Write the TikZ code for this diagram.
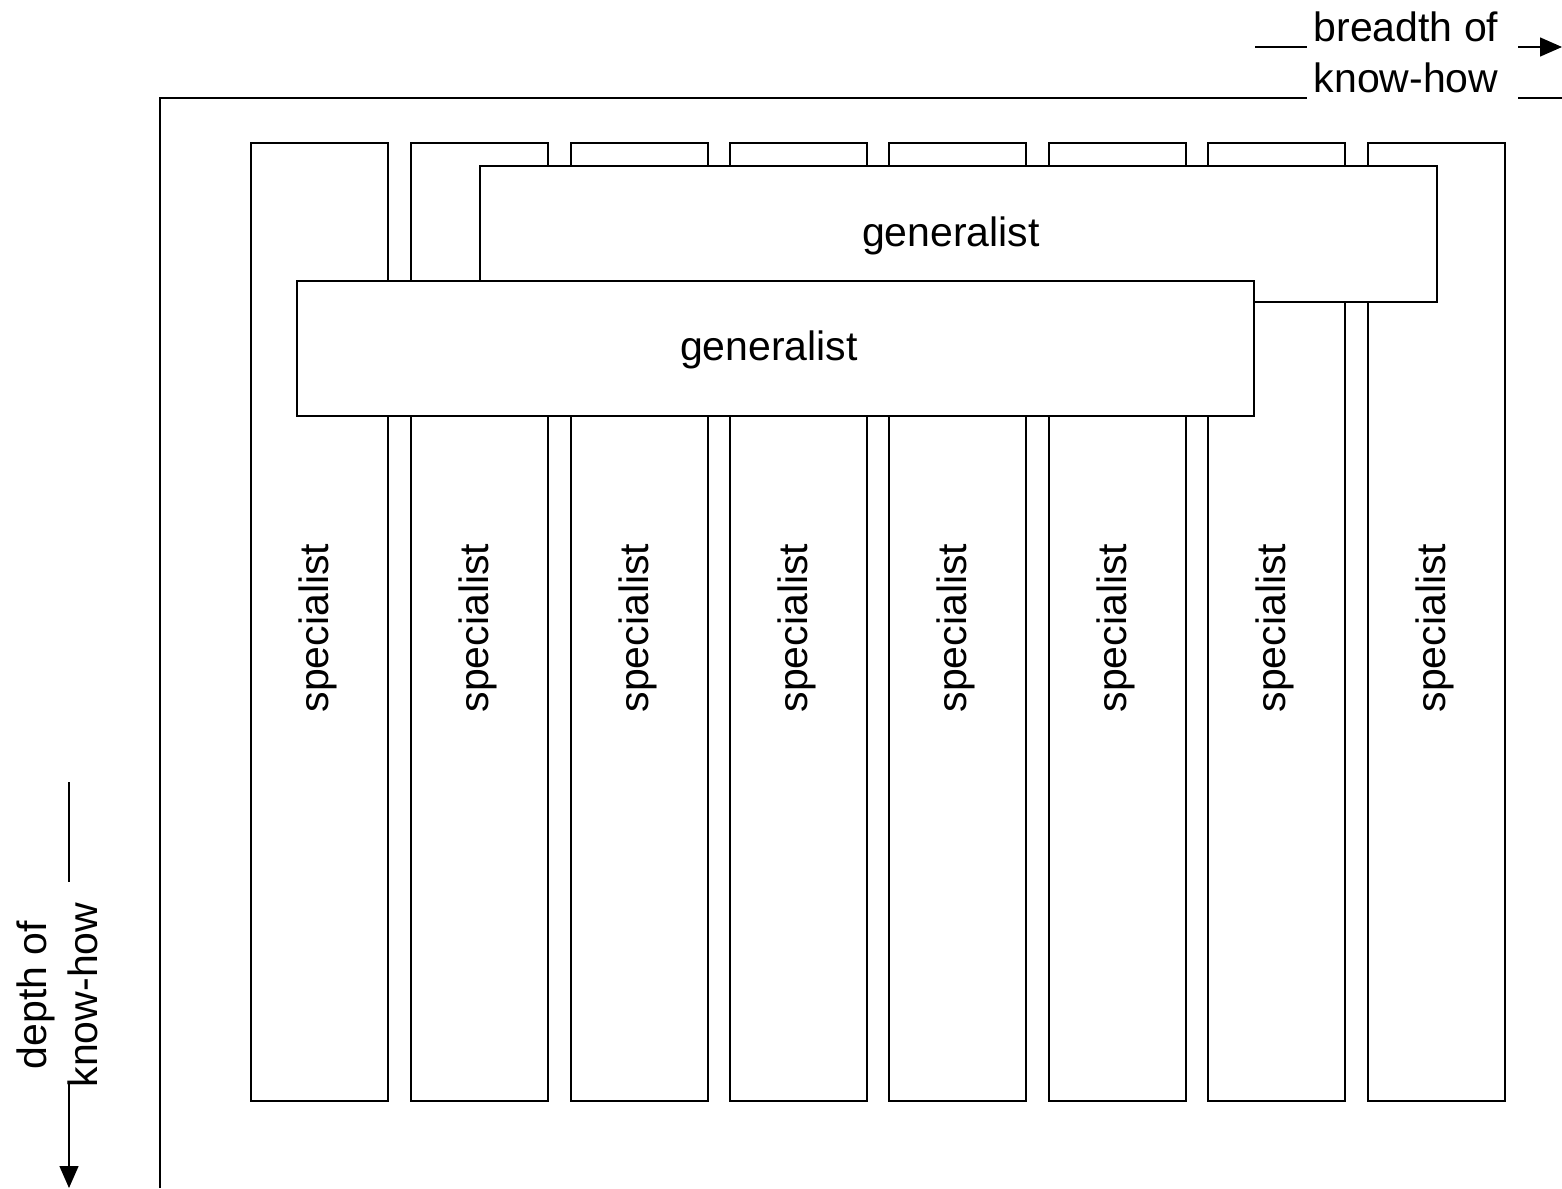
\documentclass[tikz,border=0pt]{standalone}
\usepackage{fontspec}
\setmainfont{Liberation Sans}
\usetikzlibrary{arrows.meta}
\begin{document}
\begin{tikzpicture}[x=0.5pt,y=-0.5pt,
  box/.style={draw,fill=white,line width=0.6pt},
  lbl/.style={font=\fontsize{20.5}{25.5}\selectfont,inner sep=0pt},
  ln/.style={line width=0.7pt},
  arr/.style={line width=0.7pt,-{Triangle[length=11pt,width=9.5pt]}}]
\useasboundingbox (0,0) rectangle (1562,1188);
% specialists
\foreach \i/\xa in {1/251,2/411,3/571,4/730,5/889,6/1049,7/1208,8/1368}{
  \draw[box] (\xa,143) rectangle ++(137,958);
  \node[lbl,rotate=90] (s\i) at (\xa+67,628) {specialist};
}
% generalists
\draw[box] (480,166) rectangle (1437,302);
\node[lbl] (g1) at (951,236) {generalist};
\draw[box] (297,281) rectangle (1254,416);
\node[lbl] (g2) at (769,350) {generalist};
% axes
\node[lbl,align=center] (bt) at (1406,52) {breadth of\\know-how};
\node[lbl,align=center,rotate=90] (dt) at (57,995) {depth of\\know-how};
\coordinate (o) at (160,98);
\coordinate (ob) at (160,1188);
\coordinate (tl) at (1307,98);
\draw[ln] (ob) -- (o) -- (tl);
\draw[ln] (1518,98) -- (1562,98);
\draw[ln] (1255,47) -- (1307,47);
\draw[arr] (1518,47) -- (1562,47);
\draw[ln] (69,782) -- (69,882);
\draw[arr] (69,1082) -- (69,1188);
\end{tikzpicture}
\end{document}
